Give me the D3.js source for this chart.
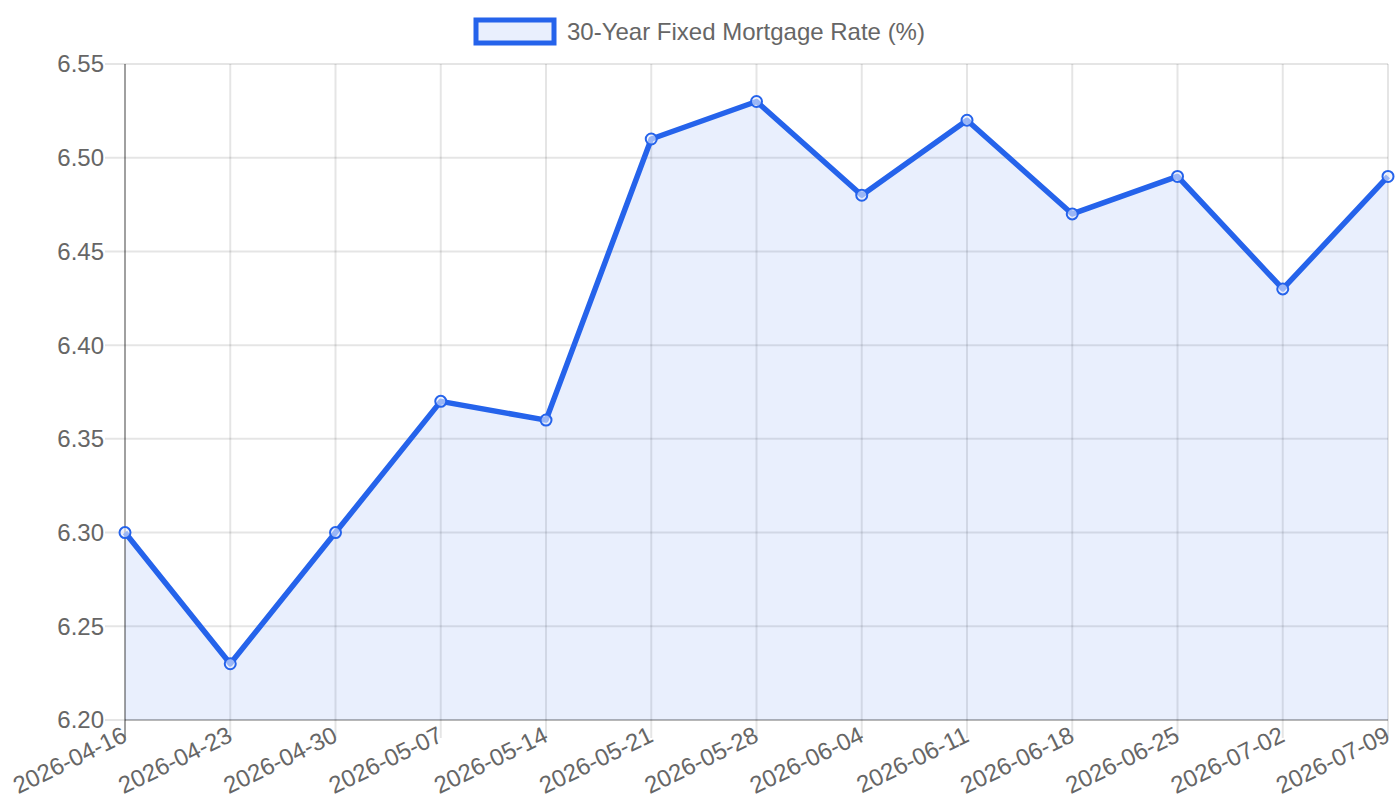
<!DOCTYPE html>
<html>
<head>
<meta charset="utf-8">
<script src="https://cdn.jsdelivr.net/npm/d3@7"></script>
<style>
  body { margin: 0; background: #fff; }
  svg text { font-family: "Liberation Sans", Arial, sans-serif; fill: #666; }
</style>
</head>
<body>
<svg id="chart" width="1400" height="800"></svg>
<script>
// DATA
const dates = ["2026-04-16", "2026-04-23", "2026-04-30", "2026-05-07", "2026-05-14", "2026-05-21",
    "2026-05-28", "2026-06-04", "2026-06-11", "2026-06-18", "2026-06-25", "2026-07-02", "2026-07-09"];
const rates = [6.30, 6.23, 6.30, 6.37, 6.36, 6.51, 6.53, 6.48, 6.52, 6.47, 6.49, 6.43, 6.49];
const yTicks = [6.20, 6.25, 6.30, 6.35, 6.40, 6.45, 6.50, 6.55];
const seriesName = "30-Year Fixed Mortgage Rate (%)";

// SETUP
const margin = { top: 64, right: 12, bottom: 80, left: 125 },
    width = 1400 - margin.left - margin.right,
    height = 800 - margin.top - margin.bottom;

const lineColor = "#2563eb";
const fillColor = "rgba(37,99,235,0.1)";
const gridColor = "rgba(0,0,0,0.1)";

const svg = d3.select("#chart");
const g = svg.append("g")
    .attr("transform", `translate(${margin.left},${margin.top})`);

// SCALES
const x = d3.scalePoint()
    .domain(dates)
    .range([0, width]);

const y = d3.scaleLinear()
    .domain([6.20, 6.55])
    .range([height, 0]);

// GRID
g.append("g")
    .selectAll("line")
    .data(yTicks)
    .join("line")
    .attr("x1", -20)
    .attr("x2", width)
    .attr("y1", d => y(d))
    .attr("y2", d => y(d))
    .attr("stroke", gridColor)
    .attr("stroke-width", 2);

g.append("g")
    .selectAll("line")
    .data(dates)
    .join("line")
    .attr("x1", d => x(d))
    .attr("x2", d => x(d))
    .attr("y1", 0)
    .attr("y2", height + 18)
    .attr("stroke", gridColor)
    .attr("stroke-width", 2);

// AREA + LINE
const area = d3.area()
    .x((d, i) => x(dates[i]))
    .y0(height)
    .y1(d => y(d));

const line = d3.line()
    .x((d, i) => x(dates[i]))
    .y(d => y(d));

g.append("path")
    .datum(rates)
    .attr("d", area)
    .attr("fill", fillColor);

// axis borders
g.append("line")
    .attr("x1", 0).attr("x2", 0)
    .attr("y1", 0).attr("y2", height + 18)
    .attr("stroke", "rgba(0,0,0,0.3)")
    .attr("stroke-width", 2);
g.append("line")
    .attr("x1", 0).attr("x2", width)
    .attr("y1", height).attr("y2", height)
    .attr("stroke", "rgba(0,0,0,0.2)")
    .attr("stroke-width", 2);

g.append("path")
    .datum(rates)
    .attr("d", line)
    .attr("fill", "none")
    .attr("stroke", lineColor)
    .attr("stroke-width", 5.5)
    .attr("stroke-linejoin", "round");

g.selectAll("circle.pt")
    .data(rates)
    .join("circle")
    .attr("class", "pt")
    .attr("cx", (d, i) => x(dates[i]))
    .attr("cy", d => y(d))
    .attr("r", 5.5)
    .attr("fill", "rgba(233,239,253,0.6)")
    .attr("stroke", lineColor)
    .attr("stroke-width", 2);

// AXES LABELS
g.append("g")
    .selectAll("text")
    .data(yTicks)
    .join("text")
    .attr("x", -21)
    .attr("y", d => y(d))
    .attr("dy", "0.35em")
    .attr("text-anchor", "end")
    .style("font-size", "24px")
    .text(d => d.toFixed(2));

g.append("g")
    .selectAll("text")
    .data(dates)
    .join("text")
    .attr("transform", d => `translate(${x(d) - 4},${height + 5}) rotate(-26)`)
    .attr("text-anchor", "end")
    .attr("dy", "0.72em")
    .style("font-size", "24px")
    .text(d => d);

// LEGEND
const legend = svg.append("g");
legend.append("rect")
    .attr("x", 476)
    .attr("y", 20)
    .attr("width", 78)
    .attr("height", 23)
    .attr("fill", "#e9effd")
    .attr("stroke", lineColor)
    .attr("stroke-width", 5);
legend.append("text")
    .attr("x", 567)
    .attr("y", 32)
    .attr("dy", "0.35em")
    .style("font-size", "24px")
    .text(seriesName);
</script>
</body>
</html>
